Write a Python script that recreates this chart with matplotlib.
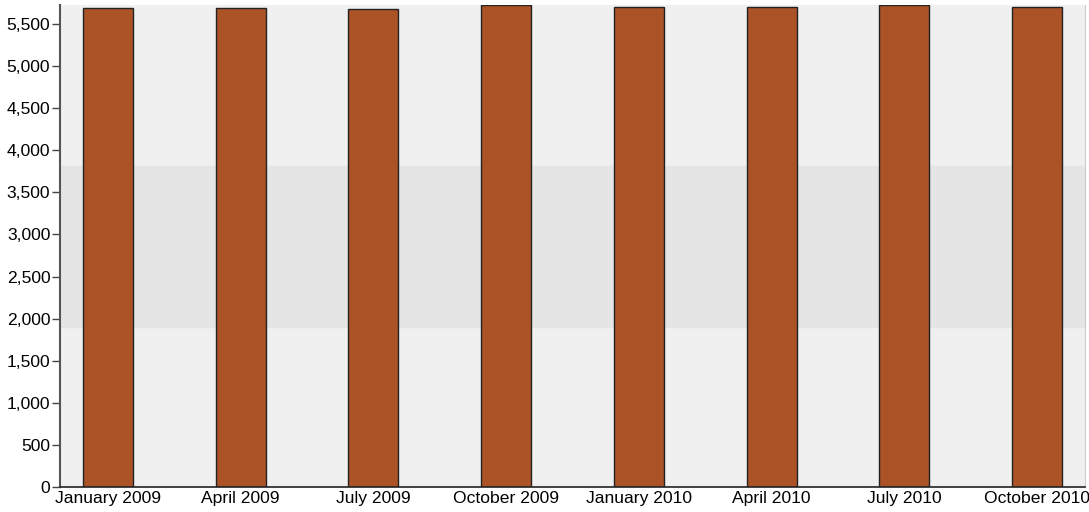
import matplotlib
matplotlib.use('Agg')
import matplotlib.pyplot as plt
from matplotlib.ticker import FuncFormatter

months = ['January 2009', 'April 2009', 'July 2009', 'October 2009',
          'January 2010', 'April 2010', 'July 2010', 'October 2010']
values = [5690, 5690, 5675, 5722, 5706, 5706, 5722, 5706]
band_low = 1904
band_high = 3817

plt.rcParams['font.family'] = ['Liberation Sans', 'DejaVu Sans']

fig = plt.figure(figsize=(10.89, 5.12), dpi=100)
ax = fig.add_axes([60 / 1089, 25 / 512, 1025 / 1089, 482 / 512])
ax.set_facecolor('#f0f0f0')

ax.axhspan(band_low, band_high, color='#e5e5e5', zorder=0)

x = range(len(months))
ax.bar(x, values, width=0.377, color='#ab5227', edgecolor='#222222', linewidth=1, zorder=2)

ax.set_xlim(-0.36, len(months) - 1 + 0.36)
ax.set_ylim(0, 5726)
ax.set_yticks(range(0, 5501, 500))
ax.yaxis.set_major_formatter(FuncFormatter(lambda v, p: f'{int(v):,}'))
ax.set_xticks(list(x))
ax.set_xticklabels(months)

ax.tick_params(axis='y', length=6, width=1, color='#444444', labelsize=12.6, pad=1)
ax.tick_params(axis='x', length=0, labelsize=12.6, pad=3)

ax.spines['top'].set_visible(False)
ax.spines['right'].set_color('#cccccc')
ax.spines['left'].set_color('#555555')
ax.spines['left'].set_linewidth(1.5)
ax.spines['bottom'].set_color('#222222')
ax.spines['bottom'].set_linewidth(1.2)

fig.savefig('out.png', dpi=100)
